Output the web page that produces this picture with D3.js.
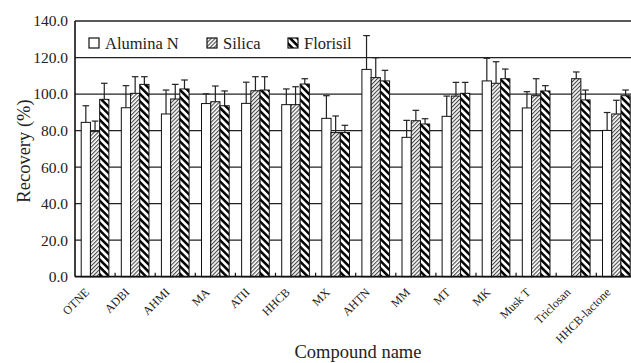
<!DOCTYPE html>
<html lang="en">
<head>
<meta charset="utf-8">
<title>Recovery by sorbent</title>
<script src="https://d3js.org/d3.v7.min.js"></script>
<style>
  body { margin: 0; background: #fff; }
  svg { display: block; font-family: "Liberation Serif", "Times New Roman", serif; }
  .grid line { stroke: #222; stroke-width: 1.3px; }
  .bar { stroke: #111; stroke-width: 1px; }
  .err line { stroke: #222; stroke-width: 1.2px; }
</style>
</head>
<body>
<svg id="chart" width="631" height="363"></svg>
<script>
// values
var compounds = ["OTNE", "ADBI", "AHMI", "MA", "ATII", "HHCB", "MX", "AHTN", "MM", "MT", "MK", "Musk T", "Triclosan", "HHCB-lactone"];
var seriesNames = ["Alumina N", "Silica", "Florisil"];
var alumina   = [84.5, 92.5, 89.1, 94.8, 94.9, 94.2, 86.7, 113.5, 76.3, 87.8, 107.2, 92.4, null, 80.1];
var aluminaSd = [9.1, 12.1, 13.1, 5.3, 11.6, 8.6, 12.4, 18.5, 9.3, 11.1, 12.4, 8.9, null, 9.8];
var silica    = [79.4, 100.4, 97.3, 95.8, 101.8, 94.2, 78.9, 109.0, 85.4, 98.9, 105.9, 99.1, 108.4, 89.1];
var silicaSd  = [5.8, 9.1, 8.0, 8.6, 7.7, 9.8, 9.1, 10.9, 5.7, 7.5, 11.8, 9.3, 3.7, 7.5];
var florisil  = [97.1, 105.3, 102.8, 93.6, 102.2, 105.5, 78.9, 107.2, 83.6, 100.4, 108.4, 101.7, 96.8, 99.1];
var florisilSd = [8.8, 4.2, 4.9, 8.1, 7.3, 2.9, 4.0, 5.8, 2.9, 6.0, 5.3, 2.9, 5.4, 3.1];
var yTicks = [0, 20, 40, 60, 80, 100, 120, 140];

(function() {
var svg = d3.select("#chart");
var mLeft = 75, mTop = 21, mBottom = 276.7, mRight = 636.4;

var defs = svg.append("defs");
var pSil = defs.append("pattern").attr("id", "silica")
    .attr("patternUnits", "userSpaceOnUse").attr("width", 2.8).attr("height", 10)
    .attr("patternTransform", "rotate(45)");
pSil.append("rect").attr("width", 2.8).attr("height", 10).attr("fill", "#fff");
pSil.append("line").attr("x1", 0.6).attr("x2", 0.6).attr("y1", 0).attr("y2", 10)
    .attr("stroke", "#333").attr("stroke-width", 1);
var pFlo = defs.append("pattern").attr("id", "florisil")
    .attr("patternUnits", "userSpaceOnUse").attr("width", 5.2).attr("height", 10)
    .attr("patternTransform", "rotate(-45)");
pFlo.append("rect").attr("width", 5.2).attr("height", 10).attr("fill", "#fff");
pFlo.append("line").attr("x1", 1.3).attr("x2", 1.3).attr("y1", 0).attr("y2", 10)
    .attr("stroke", "#000").attr("stroke-width", 2.5);

var fills = ["#fff", "url(#silica)", "url(#florisil)"];

var x0 = d3.scaleBand().domain(compounds).range([mLeft, mRight])
    .paddingInner(0.31).paddingOuter(0.155);
var x1 = d3.scaleBand().domain(seriesNames).range([0, x0.bandwidth()]);
var y = d3.scaleLinear().domain([0, 140]).range([mBottom, mTop]);

// gridlines
svg.append("g").attr("class", "grid")
  .selectAll("line").data(yTicks.slice(1)).join("line")
    .attr("x1", mLeft).attr("x2", 631)
    .attr("y1", function(d) { return y(d); }).attr("y2", function(d) { return y(d); });

var rows = compounds.map(function(c, i) {
  return [
    {c: c, s: 0, v: alumina[i], sd: aluminaSd[i]},
    {c: c, s: 1, v: silica[i], sd: silicaSd[i]},
    {c: c, s: 2, v: florisil[i], sd: florisilSd[i]}
  ].filter(function(d) { return d.v != null; });
});
var all = [].concat.apply([], rows);
function cx(d) { return x0(d.c) + x1(seriesNames[d.s]) + x1.bandwidth() / 2; }

// error bars (upper half only)
var err = svg.append("g").attr("class", "err");
err.selectAll("line.v").data(all).join("line").attr("class", "v")
    .attr("x1", cx).attr("x2", cx)
    .attr("y1", function(d) { return y(d.v); })
    .attr("y2", function(d) { return y(d.v + d.sd); });
err.selectAll("line.cap").data(all).join("line").attr("class", "cap")
    .attr("x1", function(d) { return cx(d) - 3.3; })
    .attr("x2", function(d) { return cx(d) + 3.3; })
    .attr("y1", function(d) { return y(d.v + d.sd); })
    .attr("y2", function(d) { return y(d.v + d.sd); });

svg.append("g").selectAll("rect").data(all).join("rect")
    .attr("class", "bar")
    .attr("x", function(d) { return x0(d.c) + x1(seriesNames[d.s]); })
    .attr("width", x1.bandwidth())
    .attr("y", function(d) { return y(d.v); })
    .attr("height", function(d) { return y(0) - y(d.v); })
    .attr("fill", function(d) { return fills[d.s]; });

// axes
svg.append("line").attr("x1", mLeft).attr("x2", mLeft).attr("y1", mTop).attr("y2", mBottom)
    .attr("stroke", "#111").attr("stroke-width", 1.6);
svg.append("line").attr("x1", mLeft).attr("x2", 631).attr("y1", mBottom).attr("y2", mBottom)
    .attr("stroke", "#111").attr("stroke-width", 1.8);
var step = x0.step();
svg.append("g").selectAll("line").data(compounds.slice(1)).join("line")
    .attr("x1", function(d) { return x0(d) - step * 0.155; })
    .attr("x2", function(d) { return x0(d) - step * 0.155; })
    .attr("y1", mBottom).attr("y2", mBottom - 4)
    .attr("stroke", "#111").attr("stroke-width", 1.2);

svg.append("g").selectAll("text").data(yTicks).join("text")
    .attr("x", 68).attr("y", function(d) { return y(d); }).attr("dy", "0.35em")
    .attr("text-anchor", "end").attr("font-size", 15.5).attr("fill", "#222")
    .text(function(d) { return d3.format(".1f")(d); });

svg.append("g").selectAll("text").data(compounds).join("text")
    .attr("transform", function(d) {
      return "translate(" + (x0(d) + x0.bandwidth() / 2 - 5) + "," + 293 + ") rotate(-45)";
    })
    .attr("text-anchor", "end").attr("font-size", 12).attr("fill", "#222")
    .text(function(d) { return d; });

svg.append("text").attr("transform", "translate(30,151) rotate(-90)")
    .attr("text-anchor", "middle").attr("font-size", 18.5).attr("fill", "#222")
    .text("Recovery (%)");
svg.append("text").attr("x", 358).attr("y", 358)
    .attr("text-anchor", "middle").attr("font-size", 18.5).attr("fill", "#222")
    .text("Compound name");

// legend
var legX = [89, 207, 288];
var leg = svg.append("g").selectAll("g").data(seriesNames).join("g")
    .attr("transform", function(d, i) { return "translate(" + legX[i] + ",38)"; });
leg.append("rect").attr("width", 10).attr("height", 10)
    .attr("fill", function(d, i) { return fills[i]; })
    .attr("stroke", "#111").attr("stroke-width", 1.2);
leg.append("text").attr("x", 16).attr("y", 11).attr("font-size", 16.5).attr("fill", "#222")
    .text(function(d) { return d; });
})();
</script>
</body>
</html>
